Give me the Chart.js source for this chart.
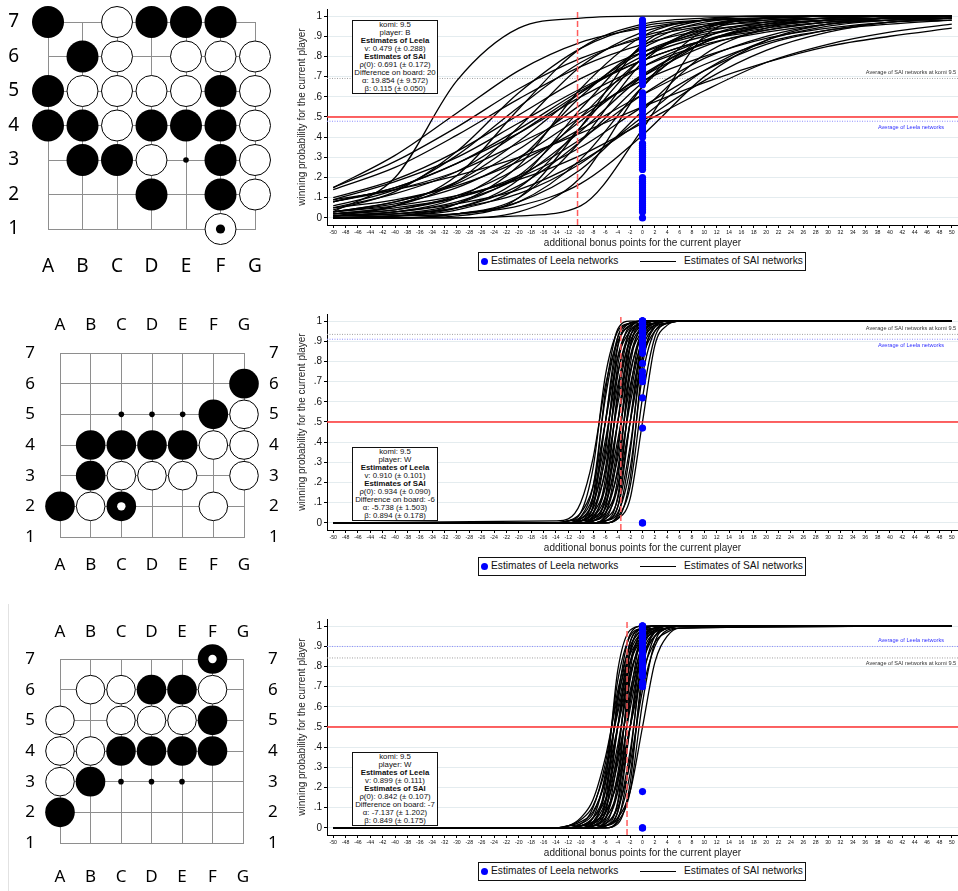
<!DOCTYPE html>
<html><head><meta charset="utf-8">
<script src="https://cdn.jsdelivr.net/npm/chart.js@4.4.1/dist/chart.umd.min.js"></script>
<style>
html,body{margin:0;padding:0;background:#fff}
#page{position:relative;width:958px;height:891px;overflow:hidden;font-family:"Liberation Sans",Arial,Helvetica,sans-serif}
canvas{position:absolute;display:block}
.info{position:absolute;left:352px;width:84px;border:1px solid #111;background:#fff;color:#111;font-size:7.8px;line-height:8px;text-align:center;white-space:nowrap}
.info .b{font-weight:bold}
.lg{position:absolute;left:478px;width:326px;height:17px;border:1px solid #111;background:#fff;font-size:10.2px;color:#111;white-space:nowrap}
.lg .dot{position:absolute;left:2px;top:5px;width:7px;height:7px;border-radius:50%;background:#0000ff}
.lg .t1{position:absolute;left:12px;top:2px}
.lg .ln{position:absolute;left:161px;top:8px;width:36px;height:0;border-top:1.5px solid #000}
.lg .t2{position:absolute;left:205px;top:2px}
.edge{position:absolute;left:8px;top:604px;width:1px;height:287px;background:#e2e2e2}
</style>
</head>
<body>
<div id="page">
<canvas id="b1" width="285" height="290" style="left:0;top:0"></canvas>
<canvas id="c1" width="668" height="251" style="left:290px;top:0"></canvas>
<canvas id="b2" width="290" height="297" style="left:0;top:300px"></canvas>
<canvas id="c2" width="668" height="251" style="left:290px;top:305px"></canvas>
<div class="edge"></div>
<canvas id="b3" width="290" height="291" style="left:0;top:600px"></canvas>
<canvas id="c3" width="668" height="251" style="left:290px;top:610px"></canvas>
</div>
<script>
const FONT = '"Liberation Sans", Arial, Helvetica, sans-serif';
const BOARD_FONT = '"Noto Sans", "Open Sans", sans-serif';
Chart.defaults.font.family = FONT;

/* ---------- Go board positions ---------- */
const boardCols = ['A','B','C','D','E','F','G'];
const boardRows = [1,2,3,4,5,6,7];
const board1Black = ['A7','D7','E7','F7','B6','A5','F5','A4','B4','D4','E4','F4','B3','C3','F3','D2','F2'];
const board1White = ['C7','C6','E6','F6','G6','B5','C5','D5','E5','G5','C4','G4','D3','G3','G2','F1'];
const board1Dots  = ['E3'];
const board1Last  = ['F1'];
const board2Black = ['G6','F5','B4','C4','D4','E4','B3','A2','C2'];
const board2White = ['G5','F4','G4','C3','D3','E3','G3','B2','F2'];
const board2Dots  = ['C5','D5','E5'];
const board2Last  = ['C2'];
const board3Black = ['F7','D6','E6','F5','C4','D4','E4','F4','B3','A2'];
const board3White = ['B6','C6','F6','A5','C5','D5','E5','A4','B4','A3'];
const board3Dots  = ['C3','D3','E3'];
const board3Last  = ['F7'];

/* ---------- chart axes ---------- */
const xTicks = [-50,-48,-46,-44,-42,-40,-38,-36,-34,-32,-30,-28,-26,-24,-22,-20,-18,-16,-14,-12,-10,-8,-6,-4,-2,0,2,4,6,8,10,12,14,16,18,20,22,24,26,28,30,32,34,36,38,40,42,44,46,48,50];
const yTicks = [0,.1,.2,.3,.4,.5,.6,.7,.8,.9,1];
const yTickLabels = ['0','.1','.2','.3','.4','.5','.6','.7','.8','.9','1'];
const xRange = [-51, 51];
const yRange = [-0.035, 1.035];
const halfLine = 0.5;
const leelaBonus = 0;

/* ---------- per-position estimates ---------- */
const infoKomi   = ['9.5','9.5','9.5'];
const infoPlayer = ['B','W','W'];
const infoLeelaV = ['0.479 (± 0.288)','0.910 (± 0.101)','0.899 (± 0.111)'];
const infoRho0   = ['0.691 (± 0.172)','0.934 (± 0.090)','0.842 (± 0.107)'];
const infoDiff   = ['20','-6','-7'];
const infoAlpha  = ['19.854 (± 9.572)','-5.738 (± 1.503)','-7.137 (± 1.202)'];
const infoBeta   = ['0.115 (± 0.050)','0.894 (± 0.178)','0.849 (± 0.175)'];
const avgSai   = [0.691, 0.934, 0.842];
const avgLeela = [0.479, 0.910, 0.899];
const evenBonus = [-10.5, -3.5, -2.5];

/* ---------- Leela network estimates (at 0 bonus) ---------- */
const leela1 = [.98,.97,.96,.95,.94,.93,.92,.91,.9,.89,.88,.87,.86,.85,.84,.83,.82,.81,.8,.79,.78,.77,.76,.75,.74,.73,.72,.71,.7,.69,.68,.67,.66,.62,.61,.6,.59,.58,.57,.56,.55,.54,.53,.51,.5,.49,.48,.47,.46,.45,.44,.43,.42,.41,.4,.37,.36,.35,.34,.33,.32,.31,.3,.29,.28,.27,.26,.25,.24,.2,.19,.18,.17,.16,.15,.14,.13,.12,.11,.1,.09,.08,.07,.06,.05,.04,.03,0];
const leela2 = [1,1,1,1,1,1,.99,.99,.99,.99,.99,.98,.98,.98,.98,.97,.97,.97,.96,.96,.96,.95,.95,.95,.94,.94,.93,.93,.92,.91,.9,.89,.88,.87,.86,.84,.79,.75,.73,.72,.7,.62,.47,0,0];
const leela3 = [1,1,1,1,.99,.99,.99,.98,.98,.98,.97,.97,.96,.96,.95,.95,.94,.94,.93,.92,.91,.9,.89,.88,.87,.86,.85,.84,.83,.82,.81,.8,.79,.78,.77,.76,.75,.72,.71,.7,.18,0,0];

/* ---------- SAI network curves: y read at these bonus values ---------- */
const knots1  = [-50,-40,-30,-20,-10,0,10,20,30,40,50];
const knots23 = [-50,-14,-12,-10,-8,-6,-4,-2,0,2,4,6,50];

const sai1 = [
[.03,.2,.68,.94,.99,1,1,1,1,1,1],
[.15,.28,.45,.64,.79,.89,.95,.97,.99,.99,1],
[.14,.25,.41,.59,.75,.86,.93,.96,.98,.99,1],
[.15,.31,.52,.73,.87,.94,.98,.99,1,1,1],
[.04,.13,.33,.62,.84,.95,.98,.99,1,1,1],
[.06,.14,.31,.55,.77,.9,.96,.98,.99,1,1],
[.1,.19,.33,.51,.69,.82,.91,.95,.98,.99,1],
[.09,.18,.3,.47,.64,.78,.88,.93,.97,.98,.99],
[.08,.15,.27,.44,.63,.78,.88,.94,.97,.99,.99],
[.05,.12,.23,.42,.62,.8,.9,.96,.98,.99,1],
[.03,.08,.18,.38,.62,.82,.92,.97,.99,1,1],
[.01,.03,.1,.29,.6,.84,.95,.99,1,1,1],
[.03,.08,.17,.34,.56,.75,.88,.95,.98,.99,1],
[0,.01,.05,.19,.54,.85,.97,.99,1,1,1],
[.03,.07,.15,.3,.5,.7,.85,.93,.97,.99,.99],
[.01,.02,.07,.21,.5,.79,.93,.98,.99,1,1],
[.02,.04,.11,.25,.48,.71,.87,.95,.98,.99,1],
[0,.01,.04,.15,.45,.79,.94,.99,1,1,1],
[.01,.03,.08,.2,.43,.7,.87,.95,.98,.99,1],
[.01,.02,.05,.16,.38,.67,.87,.96,.99,1,1],
[.02,.04,.1,.21,.39,.61,.79,.9,.96,.98,.99],
[0,0,.02,.08,.29,.65,.89,.97,.99,1,1],
[0,0,0,.03,.2,.65,.93,.99,1,1,1],
[.02,.05,.1,.2,.35,.55,.73,.86,.93,.97,.99],
[0,.01,.02,.08,.24,.53,.81,.94,.98,.99,1],
[.01,.02,.05,.12,.27,.5,.73,.88,.95,.98,.99],
[0,0,0,.01,.06,.44,.9,.99,1,1,1],
[.03,.06,.11,.19,.31,.47,.63,.77,.86,.92,.96],
[0,.01,.02,.06,.17,.41,.7,.88,.96,.99,1],
[.09,.14,.21,.3,.42,.55,.67,.77,.85,.9,.94],
[0,.01,.07,.26,.64,.9,.98,.99,1,1,1],
[0,0,.02,.1,.38,.77,.95,.99,1,1,1],
[.02,.06,.18,.45,.75,.92,.98,.99,1,1,1],
[.08,.14,.23,.37,.52,.68,.8,.89,.94,.97,.98],
[.05,.09,.16,.28,.44,.61,.76,.87,.93,.96,.98],
[.01,.06,.21,.54,.84,.96,.99,1,1,1,1],
[.08,.15,.27,.42,.6,.75,.86,.92,.96,.98,.99],
[.01,.03,.07,.14,.28,.48,.68,.83,.92,.97,.99],
[0,0,.01,.1,.45,.86,.98,1,1,1,1]
];

const sai2 = [
[0,0,.01,.05,.27,.73,.95,.99,1,1,1,1,1],
[0,0,0,.03,.18,.62,.92,.99,1,1,1,1,1],
[0,.01,.02,.1,.32,.68,.9,.98,.99,1,1,1,1],
[0,0,0,.02,.12,.5,.88,.98,1,1,1,1,1],
[0,0,.01,.05,.18,.5,.82,.95,.99,1,1,1,1],
[0,0,0,.01,.08,.5,.92,.99,1,1,1,1,1],
[0,0,0,.01,.08,.38,.82,.97,1,1,1,1,1],
[0,0,0,.01,.05,.27,.73,.95,.99,1,1,1,1],
[0,0,.01,.02,.1,.32,.68,.9,.98,.99,1,1,1],
[0,0,0,0,.02,.22,.78,.98,1,1,1,1,1],
[0,0,0,0,.03,.18,.62,.92,.99,1,1,1,1],
[0,0,0,0,.01,.13,.65,.96,1,1,1,1,1],
[0,0,0,0,.02,.12,.5,.88,.98,1,1,1,1],
[0,0,0,.01,.05,.18,.5,.82,.95,.99,1,1,1],
[0,0,0,0,.01,.08,.5,.92,.99,1,1,1,1],
[0,0,0,0,.01,.08,.38,.82,.97,1,1,1,1],
[0,0,0,0,0,.04,.35,.87,.99,1,1,1,1],
[0,0,0,0,.01,.05,.27,.73,.95,.99,1,1,1],
[0,0,0,.01,.02,.1,.32,.68,.9,.98,.99,1,1],
[0,0,0,0,0,.02,.22,.78,.98,1,1,1,1],
[0,0,0,0,0,.03,.18,.62,.92,.99,1,1,1],
[0,0,0,0,0,.01,.13,.65,.96,1,1,1,1],
[0,0,0,0,0,.02,.12,.5,.88,.98,1,1,1],
[0,0,0,0,.01,.05,.18,.5,.82,.95,.99,1,1],
[0,0,0,0,0,.01,.08,.5,.92,.99,1,1,1],
[0,0,0,0,0,.01,.08,.38,.82,.97,1,1,1],
[0,0,0,0,0,.01,.05,.27,.73,.95,.99,1,1],
[0,0,0,0,0,0,.02,.22,.78,.98,1,1,1],
[0,0,0,0,0,0,.03,.18,.62,.92,.99,1,1],
[0,0,0,0,0,0,.02,.12,.5,.88,.98,1,1],
[0,0,0,0,.04,.35,.87,.99,1,1,1,1,1],
[0,0,0,.01,.13,.65,.96,1,1,1,1,1,1],
[0,0,0,0,0,0,.04,.35,.87,.99,1,1,1],
[0,0,0,.02,.07,.25,.59,.87,.97,.99,1,1,1],
[0,0,0,.01,.03,.13,.41,.75,.93,.98,1,1,1],
[0,0,0,0,.02,.07,.25,.59,.87,.97,.99,1,1],
[0,0,.01,.03,.13,.41,.75,.93,.98,1,1,1,1]
];

const sai3 = [
[0,0,.01,.05,.14,.35,.65,.86,.95,.99,1,1,1],
[0,0,.01,.03,.08,.23,.5,.77,.92,.97,.99,1,1],
[0,0,0,.01,.05,.14,.35,.65,.86,.95,.99,1,1],
[0,0,.01,.04,.11,.29,.57,.82,.94,.98,.99,1,1],
[0,0,0,.01,.03,.08,.23,.5,.77,.92,.97,.99,1],
[0,0,.01,.02,.1,.32,.68,.9,.98,.99,1,1,1],
[0,0,0,.02,.07,.25,.59,.87,.97,.99,1,1,1],
[0,0,0,.01,.05,.18,.5,.82,.95,.99,1,1,1],
[0,0,0,.01,.03,.13,.41,.75,.93,.98,1,1,1],
[0,0,0,.01,.02,.1,.32,.68,.9,.98,.99,1,1],
[0,0,0,0,.02,.07,.25,.59,.87,.97,.99,1,1],
[0,0,0,0,.01,.05,.18,.5,.82,.95,.99,1,1],
[0,0,0,0,.01,.02,.1,.32,.68,.9,.98,.99,1],
[0,0,0,0,0,.01,.05,.18,.5,.82,.95,.99,1],
[0,0,0,0,.03,.18,.62,.92,.99,1,1,1,1],
[0,0,0,0,.02,.12,.5,.88,.98,1,1,1,1],
[0,0,0,0,.01,.08,.38,.82,.97,1,1,1,1],
[0,0,0,0,.01,.05,.27,.73,.95,.99,1,1,1],
[0,0,0,0,0,.03,.18,.62,.92,.99,1,1,1],
[0,0,0,0,0,.02,.12,.5,.88,.98,1,1,1],
[0,0,0,0,0,.01,.08,.38,.82,.97,1,1,1],
[0,0,0,0,0,.01,.05,.27,.73,.95,.99,1,1],
[0,0,0,0,0,0,.03,.18,.62,.92,.99,1,1],
[0,0,0,0,.02,.22,.78,.98,1,1,1,1,1],
[0,0,0,0,.01,.08,.5,.92,.99,1,1,1,1],
[0,0,0,0,0,.04,.35,.87,.99,1,1,1,1],
[0,0,0,0,0,.02,.22,.78,.98,1,1,1,1],
[0,0,0,0,0,.01,.13,.65,.96,1,1,1,1],
[0,0,0,0,0,.01,.08,.5,.92,.99,1,1,1],
[0,0,0,0,0,0,.04,.35,.87,.99,1,1,1],
[0,0,0,0,0,0,.02,.22,.78,.98,1,1,1],
[0,0,0,0,.01,.13,.65,.96,1,1,1,1,1],
[0,0,0,.01,.05,.27,.73,.95,.99,1,1,1,1]
];

/* ---------- layout (positions / sizes only) ---------- */
const infoTops   = [20, 447, 752];
const legendTops = [252, 557, 862];

const saiSets   = [sai1, sai2, sai3];
const leelaSets = [leela1, leela2, leela3];
const knotSets  = [knots1, knots23, knots23];

function curveChart(canvasId, k) {
  const ds = [];
  ds.push({label:'Estimates of Leela networks', data: leelaSets[k].map(v => ({x: leelaBonus, y: v})),
    showLine:false, pointRadius:3.6, pointBackgroundColor:'#0000ff', pointBorderWidth:0, borderColor:'#0000ff'});
  ds.push({data:[{x:xRange[0],y:halfLine},{x:xRange[1],y:halfLine}], borderColor:'#ff3030', borderWidth:1.6, pointRadius:0});
  ds.push({data:[{x:evenBonus[k],y:yRange[0]},{x:evenBonus[k],y:yRange[1]}], borderColor:'#ff5c5c', borderWidth:1.5, borderDash:[6,3], pointRadius:0});
  saiSets[k].forEach(row => ds.push({label:'Estimates of SAI networks',
    data: row.map((v,i) => ({x: knotSets[k][i], y: v})),
    borderColor:'#000', borderWidth:1.3, pointRadius:0, cubicInterpolationMode:'monotone'}));
  ds.push({data:[{x:xRange[0],y:avgSai[k]},{x:xRange[1],y:avgSai[k]}], borderColor:'#a0a0a0', borderWidth:1, borderDash:[1,1.5], pointRadius:0});
  ds.push({data:[{x:xRange[0],y:avgLeela[k]},{x:xRange[1],y:avgLeela[k]}], borderColor:'#8c8cff', borderWidth:1, borderDash:[1,1.5], pointRadius:0});

  const avgLabels = {
    id:'avgLabels',
    afterDatasetsDraw(chart){
      const c = chart.ctx, ys = chart.scales.y, a = chart.chartArea;
      const saiAbove = avgSai[k] >= avgLeela[k];
      const cx = a.right - 47;
      c.save();
      c.font = '5.6px ' + FONT;
      c.textAlign = 'center'; c.textBaseline = 'middle';
      c.fillStyle = '#333';
      c.fillText('Average of SAI networks at komi ' + infoKomi[k], cx, ys.getPixelForValue(avgSai[k]) + (saiAbove ? -5.5 : 5));
      c.fillStyle = '#3333ff';
      c.fillText('Average of Leela networks', cx, ys.getPixelForValue(avgLeela[k]) + (saiAbove ? 6 : -6.5));
      c.restore();
    }
  };

  new Chart(document.getElementById(canvasId), {
    type:'line',
    data:{datasets: ds},
    options:{
      responsive:false, animation:false, events:[],
      layout:{autoPadding:false, padding:{top:9,right:0,bottom:0,left:0}},
      plugins:{legend:{display:false}, tooltip:{enabled:false}},
      scales:{
        x:{type:'linear', min:xRange[0], max:xRange[1],
           afterBuildTicks: s => { s.ticks = xTicks.map(v => ({value:v})); },
           afterFit: s => { s.height = 26; s.paddingLeft = 0; s.paddingRight = 0; },
           grid:{display:true, drawOnChartArea:false, drawTicks:true, tickLength:3, tickColor:'#000'},
           border:{color:'#000', width:1},
           ticks:{autoSkip:false, maxRotation:0, minRotation:0, padding:1, color:'#111', font:{size:5.2}, callback: v => String(v)},
           title:{display:true, text:'additional bonus points for the current player', color:'#222', font:{size:10}, padding:{top:0,bottom:2}}},
        y:{type:'linear', min:yRange[0], max:yRange[1],
           afterBuildTicks: s => { s.ticks = yTicks.map(v => ({value:v})); },
           afterFit: s => { s.width = 37; s.paddingTop = 0; s.paddingBottom = 0; },
           grid:{color:'#e4ecef', lineWidth:1, drawTicks:true, tickLength:3, tickColor:'#000'},
           border:{color:'#000', width:1},
           ticks:{padding:2, color:'#111', font:{size:10}, callback: (v,i) => yTickLabels[i]},
           title:{display:true, text:'winning probability for the current player', color:'#222', font:{size:10}, padding:{top:6,bottom:0}}}
      }
    },
    plugins:[avgLabels]
  });

  // info box
  const info = document.createElement('div');
  info.className = 'info';
  info.style.top = infoTops[k] + 'px';
  const lines = [
    ['komi: ' + infoKomi[k], false], ['player: ' + infoPlayer[k], false],
    ['Estimates of Leela', true], ['v: ' + infoLeelaV[k], false],
    ['Estimates of SAI', true], ['ρ(0): ' + infoRho0[k], false],
    ['Difference on board: ' + infoDiff[k], false], ['α: ' + infoAlpha[k], false],
    ['β: ' + infoBeta[k], false]];
  lines.forEach(([t,b]) => { const d = document.createElement('div'); if (b) d.className='b'; d.textContent = t; info.appendChild(d); });
  document.getElementById('page').appendChild(info);

  // legend
  const lg = document.createElement('div');
  lg.className = 'lg';
  lg.style.top = legendTops[k] + 'px';
  lg.innerHTML = '<span class="dot"></span><span class="t1">Estimates of Leela networks</span><span class="ln"></span><span class="t2">Estimates of SAI networks</span>';
  document.getElementById('page').appendChild(lg);
}

function boardChart(canvasId, black, white, dots, last, g) {
  const pt = s => ({x: boardCols.indexOf(s[0]) + 1, y: +s.slice(1)});
  const gridCol = '#8e8e8e';
  const tickFont = {family: BOARD_FONT, size: g.fs};
  const axisCommon = {type:'linear', min:1, max:7, afterBuildTicks: s => { s.ticks = boardRows.map(v => ({value:v})); }};
  const scales = {
    x: Object.assign({}, axisCommon, {position:'bottom',
      afterFit: s => { s.height = g.bot; s.paddingLeft = 0; s.paddingRight = 0; },
      grid:{color:gridCol, lineWidth:1, drawTicks:false}, border:{color:gridCol, width:1},
      ticks:{padding:g.bp, color:'#000', font:tickFont, callback: v => boardCols[v-1]}}),
    y: Object.assign({}, axisCommon, {position:'left',
      afterFit: s => { s.width = g.left; s.paddingTop = 0; s.paddingBottom = 0; },
      grid:{color:gridCol, lineWidth:1, drawTicks:false}, border:{color:gridCol, width:1},
      ticks:{padding:g.lp, color:'#000', font:tickFont, callback: v => String(v)}})
  };
  if (g.four) {
    scales.x2 = Object.assign({}, axisCommon, {position:'top', afterFit: s => { s.height = g.top; s.paddingLeft = 0; s.paddingRight = 0; },
      grid:{display:false, drawTicks:false}, border:{display:false},
      ticks:{padding:g.tp, color:'#000', font:tickFont, callback: v => boardCols[v-1]}});
    scales.y2 = Object.assign({}, axisCommon, {position:'right', afterFit: s => { s.width = g.right; s.paddingTop = 0; s.paddingBottom = 0; },
      grid:{display:false, drawTicks:false}, border:{display:false},
      ticks:{padding:g.rp, color:'#000', font:tickFont, callback: v => String(v)}});
  }
  new Chart(document.getElementById(canvasId), {
    type:'scatter',
    data:{datasets:[
      {data:last.map(pt), pointRadius:g.mr, pointBorderWidth:0,
       pointBackgroundColor: last.map(s => black.includes(s) ? '#fff' : '#000'), clip:false},
      {data:dots.map(pt), pointRadius:2.8, pointBorderWidth:0, pointBackgroundColor:'#000', clip:false},
      {data:black.map(pt), pointRadius:g.R, pointBorderWidth:0, pointBackgroundColor:'#000', clip:false},
      {data:white.map(pt), pointRadius:g.R - 0.5, pointBorderWidth:1, pointBorderColor:'#000', pointBackgroundColor:'#fff', clip:false}
    ]},
    options:{
      responsive:false, animation:false, events:[],
      layout:{autoPadding:false, padding:{top:g.padTop || 0, right:g.padRight || 0, left:0, bottom:0}},
      plugins:{legend:{display:false}, tooltip:{enabled:false}},
      scales
    }
  });
}

boardChart('b1', board1Black, board1White, board1Dots, board1Last,
  {four:false, left:48, bot:61, padTop:22, padRight:30, fs:19, bp:26, lp:29, R:16, mr:4.6});
boardChart('b2', board2Black, board2White, board2Dots, board2Last,
  {four:true, left:60, right:46, top:53, bot:60, fs:17, bp:18, tp:18, lp:25, rp:25, R:14.8, mr:4.2});
boardChart('b3', board3Black, board3White, board3Dots, board3Last,
  {four:true, left:60, right:47, top:59, bot:48, fs:17, bp:24, tp:17, lp:25, rp:25, R:14.8, mr:4.2});

curveChart('c1', 0);
curveChart('c2', 1);
curveChart('c3', 2);
</script>
</body></html>
